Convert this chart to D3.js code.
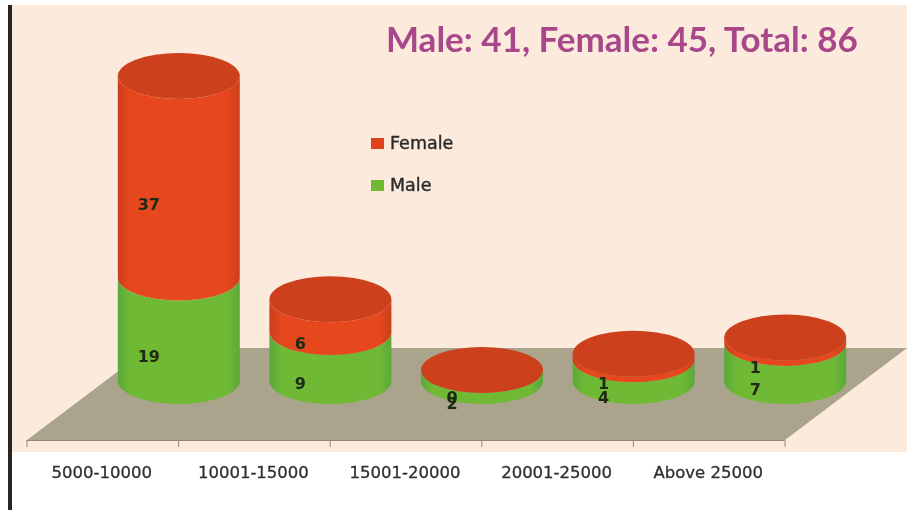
<!DOCTYPE html>
<html>
<head>
<meta charset="utf-8">
<script src="https://cdn.jsdelivr.net/npm/d3@7"></script>
<style>
    html, body { margin: 0; padding: 0; background: #fff; }
    svg { display: block; }
</style>
</head>
<body>
<div id="chart"></div>
<script>
// chart data
const categories = ["5000-10000", "10001-15000", "15001-20000", "20001-25000", "Above 25000"];
const maleValues = [19, 9, 2, 4, 7];
const femaleValues = [37, 6, 0, 1, 1];
const titleText = "Male: 41, Female: 45, Total: 86";
const legendNames = ["Female", "Male"];

const width = 907, height = 510;

// floor of the 3d chart
const floorFront = 440, floorBack = 348, floorLeft = 27, floorRight = 785, depthX = 122;
const rx = 61, ry = 23;

const svg = d3.select("#chart").append("svg")
    .attr("width", width)
    .attr("height", height);

const defs = svg.append("defs");

defs.append("filter").attr("id", "soft")
    .attr("x", "-5%").attr("y", "-5%").attr("width", "110%").attr("height", "110%")
    .append("feGaussianBlur").attr("stdDeviation", 0.7);

function sideGradient(id, edge, mid) {
    let g = defs.append("linearGradient").attr("id", id);
    [[0, edge], [0.1, mid], [0.5, mid], [0.9, mid], [1, edge]].forEach(s => {
        g.append("stop").attr("offset", s[0]).attr("stop-color", s[1]);
    });
}
sideGradient("side-red", "#c9401c", "#e6461e");
sideGradient("side-green", "#5aa83a", "#6fb935");

// background
svg.append("rect").attr("x", 12).attr("y", 5).attr("width", width - 12).attr("height", 447).attr("fill", "#fcebdc");
svg.append("rect").attr("x", 8).attr("y", 5).attr("width", 4).attr("height", height - 5).attr("fill", "#2b2522");

const chart = svg.append("g").attr("filter", "url(#soft)");

// scales
const x = d3.scaleBand().domain(categories).range([floorLeft, floorRight]);
const y = d3.scaleLinear().domain([0, 56]).range([381, 76]);
const cx = d => x(d) + x.bandwidth() / 2 + depthX / 2 + 15;

chart.append("path")
    .attr("d", d3.line()([
        [floorLeft, floorFront], [floorRight, floorFront],
        [floorRight + depthX, floorBack], [floorLeft + depthX, floorBack]
    ]) + "Z")
    .attr("fill", "#aba48c");

// x axis, ticks sit on the band edges so the labels get drawn without them
const axis = chart.append("g")
    .attr("transform", `translate(-1,${floorFront})`)
    .call(d3.axisBottom(x).tickSize(0).tickPadding(26));
axis.select(".domain").attr("stroke", "#8f8874");
axis.selectAll("text")
    .attr("font-family", "DejaVu Sans")
    .attr("font-size", 16.5)
    .attr("fill", "#2f2f2f")
    .attr("stroke", "#2f2f2f")
    .attr("stroke-width", 0.3);

chart.selectAll(".edge-tick")
    .data(categories.concat([null]))
    .enter().append("line")
    .attr("class", "edge-tick")
    .attr("x1", d => d === null ? floorRight : x(d))
    .attr("x2", d => d === null ? floorRight : x(d))
    .attr("y1", floorFront)
    .attr("y2", floorFront + 7)
    .attr("stroke", "#8f8874");

function cylinderPath(c, from, to) {
    let left = cx(c) - rx, right = cx(c) + rx;
    return `M${left},${y(to)}L${left},${y(from)}A${rx},${ry} 0 0 0 ${right},${y(from)}` +
        `L${right},${y(to)}A${rx},${ry} 0 0 1 ${left},${y(to)}Z`;
}

const rows = categories.map((c, i) => ({c: c, male: maleValues[i], female: femaleValues[i]}));

// green part
chart.selectAll(".male")
    .data(rows)
    .enter().append("path")
    .attr("class", "male")
    .attr("d", d => cylinderPath(d.c, 0, d.male))
    .attr("fill", "url(#side-green)");

// red part
chart.selectAll(".female")
    .data(rows)
    .enter().append("path")
    .attr("class", "female")
    .attr("d", d => cylinderPath(d.c, d.male, d.male + d.female))
    .attr("fill", "url(#side-red)");

// lid
chart.selectAll(".lid")
    .data(rows)
    .enter().append("ellipse")
    .attr("class", "lid")
    .attr("cx", d => cx(d.c))
    .attr("cy", d => y(d.male + d.female))
    .attr("rx", rx)
    .attr("ry", ry)
    .attr("fill", "#cd3f1b");

// value labels sit left of the centre, on the front face of each segment
function valueLabels(cls, val, mid) {
    chart.selectAll("." + cls)
        .data(rows)
        .enter().append("text")
        .attr("class", cls)
        .attr("x", d => cx(d.c) - 30)
        .attr("y", d => y(mid(d)) + 33)
        .attr("text-anchor", "middle")
        .attr("font-family", "DejaVu Sans")
        .attr("font-size", 16)
        .attr("font-weight", "bold")
        .attr("fill", "#1f2a14")
        .text(val);
}
valueLabels("male-label", d => d.male, d => d.male / 2);
valueLabels("female-label", d => d.female, d => d.male + d.female / 2);

// legend
const legend = chart.append("g").attr("transform", "translate(371,138)");
const swatchColors = d3.scaleOrdinal().domain(legendNames).range(["#e0431f", "#6fb935"]);
const legendY = d3.scalePoint().domain(legendNames).range([0, 42]);

legend.selectAll("rect")
    .data(legendNames)
    .enter().append("rect")
    .attr("y", d => legendY(d))
    .attr("width", 13)
    .attr("height", 11)
    .attr("fill", d => swatchColors(d));

legend.selectAll("text")
    .data(legendNames)
    .enter().append("text")
    .attr("x", 19)
    .attr("y", d => legendY(d) + 11)
    .attr("font-family", "DejaVu Sans")
    .attr("font-size", 17.5)
    .attr("fill", "#2a2a2a")
    .attr("stroke", "#2a2a2a")
    .attr("stroke-width", 0.4)
    .text(d => d);

// title stays crisp
svg.append("text")
    .attr("x", 386)
    .attr("y", 52)
    .attr("font-family", "Lato")
    .attr("font-weight", "bold")
    .attr("font-size", 35)
    .attr("fill", "#a8478a")
    .text(titleText);
</script>
</body>
</html>
